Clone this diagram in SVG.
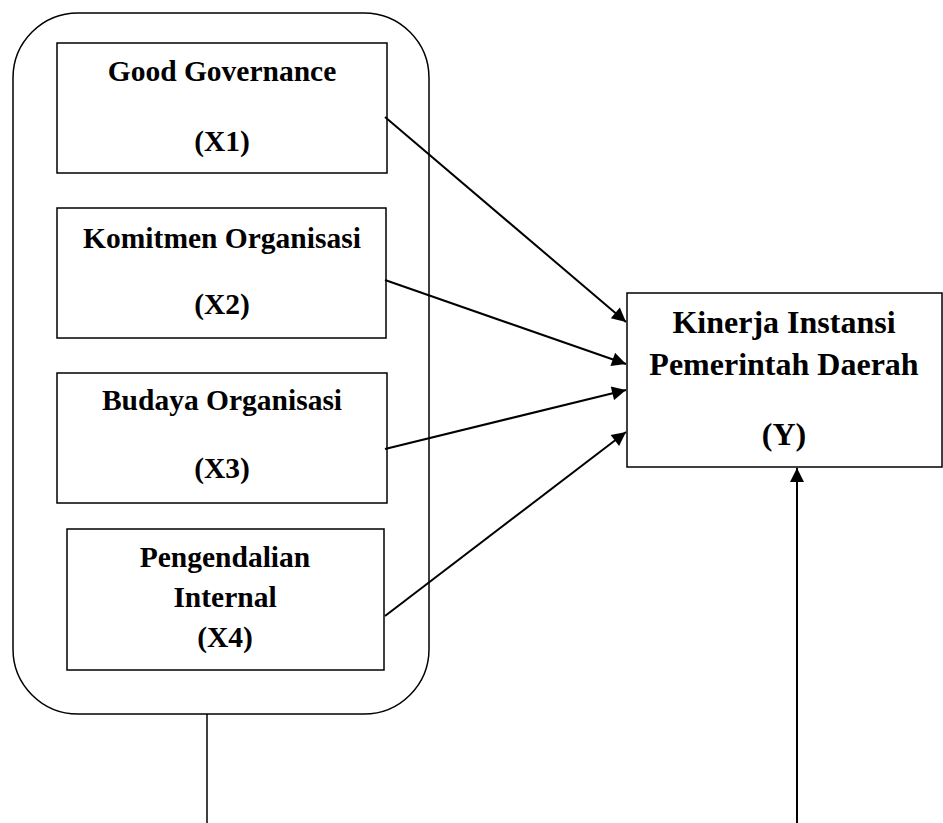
<svg xmlns="http://www.w3.org/2000/svg" width="943" height="823" viewBox="0 0 943 823">
<style>
.box{fill:#fff;stroke:#000;stroke-width:1.5}
.t{font-family:"Liberation Serif","Times New Roman",serif;font-weight:bold;font-size:29.5px;fill:#000;text-anchor:middle}
.ty{font-size:32px}
.c{stroke:#000;stroke-width:2;fill:none}
</style>
<defs>
<marker id="ah" viewBox="0 0 10 10" refX="10" refY="5" markerWidth="8" markerHeight="7" markerUnits="strokeWidth" orient="auto">
<path d="M0,0 L10,5 L0,10 z" fill="#000"/>
</marker>
</defs>
<g id="group">
<rect x="13" y="13" width="416" height="701" rx="65" ry="65" class="box"/>
</g>
<g id="x1">
<rect x="57" y="43" width="330" height="130" class="box"/>
<text x="222" y="81" class="t">Good Governance</text>
<text x="222" y="151" class="t">(X1)</text>
</g>
<g id="x2">
<rect x="57" y="208" width="329" height="130" class="box"/>
<text x="222" y="248" class="t">Komitmen Organisasi</text>
<text x="222" y="314" class="t">(X2)</text>
</g>
<g id="x3">
<rect x="57" y="373" width="330" height="130" class="box"/>
<text x="222" y="410" class="t">Budaya Organisasi</text>
<text x="222" y="478" class="t">(X3)</text>
</g>
<g id="x4">
<rect x="67" y="529" width="317" height="141" class="box"/>
<text x="225" y="567" class="t">Pengendalian</text>
<text x="225" y="607" class="t">Internal</text>
<text x="225" y="647" class="t">(X4)</text>
</g>
<g id="y">
<rect x="627" y="293" width="315" height="174" class="box"/>
<text x="784" y="333" class="t ty">Kinerja Instansi</text>
<text x="784" y="375" class="t ty">Pemerintah Daerah</text>
<text x="784" y="445" class="t ty">(Y)</text>
</g>
<g id="connectors">
<line x1="385" y1="117" x2="626" y2="322" class="c" marker-end="url(#ah)"/>
<line x1="385" y1="280" x2="626" y2="364" class="c" marker-end="url(#ah)"/>
<line x1="385" y1="449" x2="626" y2="390" class="c" marker-end="url(#ah)"/>
<line x1="385" y1="616" x2="626" y2="432" class="c" marker-end="url(#ah)"/>
<line x1="207" y1="714" x2="207" y2="823" stroke="#000" stroke-width="1.5"/>
<line x1="797" y1="823" x2="797" y2="468" class="c" marker-end="url(#ah)"/>
</g>
</svg>
